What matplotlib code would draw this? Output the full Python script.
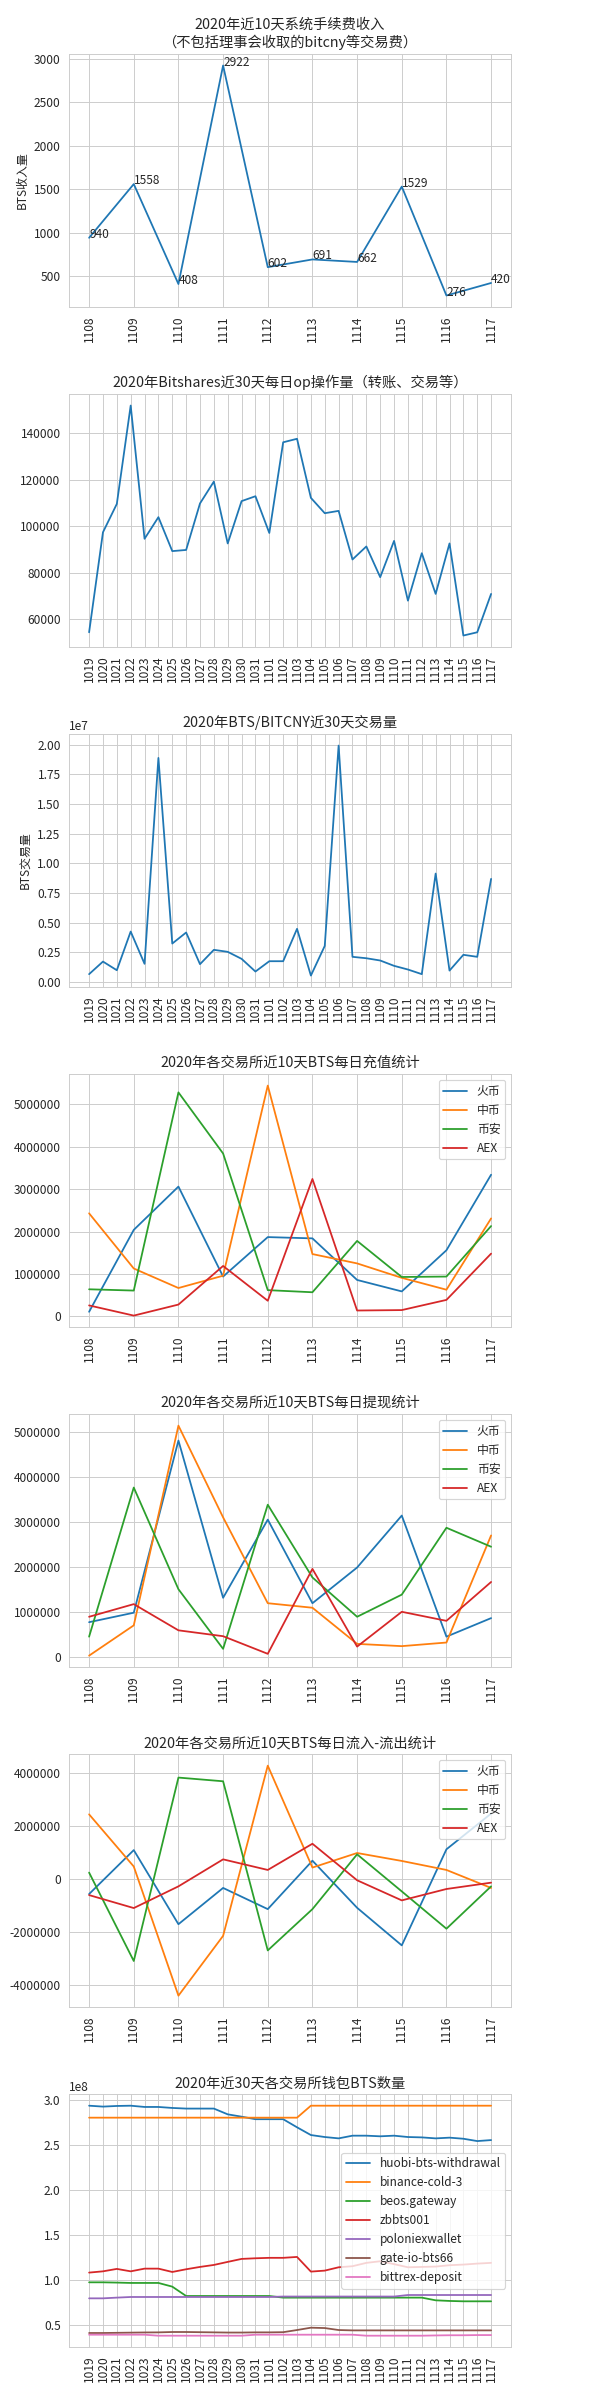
import matplotlib
matplotlib.use('Agg')
import matplotlib.pyplot as plt
import seaborn as sns

sns.set_style('whitegrid')
plt.rcParams['font.family'] = ['Noto Sans CJK SC', 'DejaVu Sans']
plt.rcParams['axes.unicode_minus'] = False

# ---- data ----
days10 = ['1108', '1109', '1110', '1111', '1112', '1113', '1114', '1115', '1116', '1117']
days30 = ['1019', '1020', '1021', '1022', '1023', '1024', '1025', '1026', '1027', '1028',
          '1029', '1030', '1031', '1101', '1102', '1103', '1104', '1105', '1106', '1107',
          '1108', '1109', '1110', '1111', '1112', '1113', '1114', '1115', '1116', '1117']

fee_income = [940, 1558, 408, 2922, 602, 691, 662, 1529, 276, 420]

op_count = [54400, 97400, 109600, 151900, 94600, 103900, 89300, 89800, 109800, 119200,
            92600, 110800, 112900, 97100, 136100, 137600, 112200, 105600, 106600, 85700,
            91300, 78100, 93700, 68000, 88400, 70900, 92600, 53000, 54400, 70900]

bitcny_volume = [0.65e6, 1.71e6, 0.98e6, 4.24e6, 1.52e6, 18.88e6, 3.23e6, 4.16e6, 1.49e6, 2.70e6,
                 2.53e6, 1.94e6, 0.87e6, 1.74e6, 1.74e6, 4.47e6, 0.53e6, 3.03e6, 19.92e6, 2.11e6,
                 1.99e6, 1.80e6, 1.35e6, 1.04e6, 0.65e6, 9.13e6, 0.95e6, 2.28e6, 2.11e6, 8.68e6]

exchanges = ['火币', '中币', '币安', 'AEX']

deposit_huobi = [0.11e6, 2.04e6, 3.06e6, 0.94e6, 1.87e6, 1.84e6, 0.86e6, 0.59e6, 1.56e6, 3.34e6]
deposit_zb = [2.43e6, 1.13e6, 0.67e6, 0.96e6, 5.44e6, 1.47e6, 1.25e6, 0.91e6, 0.63e6, 2.31e6]
deposit_binance = [0.64e6, 0.61e6, 5.28e6, 3.84e6, 0.62e6, 0.57e6, 1.78e6, 0.93e6, 0.94e6, 2.13e6]
deposit_aex = [0.26e6, 0.02e6, 0.28e6, 1.19e6, 0.37e6, 3.24e6, 0.14e6, 0.15e6, 0.39e6, 1.48e6]

withdraw_huobi = [0.78e6, 0.99e6, 4.80e6, 1.32e6, 3.05e6, 1.20e6, 1.99e6, 3.14e6, 0.46e6, 0.87e6]
withdraw_zb = [0.04e6, 0.71e6, 5.13e6, 3.10e6, 1.20e6, 1.10e6, 0.30e6, 0.25e6, 0.33e6, 2.70e6]
withdraw_binance = [0.46e6, 3.76e6, 1.51e6, 0.19e6, 3.38e6, 1.77e6, 0.90e6, 1.39e6, 2.87e6, 2.45e6]
withdraw_aex = [0.90e6, 1.18e6, 0.60e6, 0.47e6, 0.08e6, 1.96e6, 0.24e6, 1.01e6, 0.81e6, 1.67e6]

net_huobi = [-0.58e6, 1.08e6, -1.72e6, -0.35e6, -1.15e6, 0.68e6, -1.10e6, -2.52e6, 1.11e6, 2.46e6]
net_zb = [2.43e6, 0.46e6, -4.42e6, -2.16e6, 4.27e6, 0.42e6, 0.97e6, 0.67e6, 0.33e6, -0.35e6]
net_binance = [0.23e6, -3.11e6, 3.82e6, 3.68e6, -2.71e6, -1.15e6, 0.92e6, -0.48e6, -1.89e6, -0.29e6]
net_aex = [-0.62e6, -1.11e6, -0.29e6, 0.73e6, 0.33e6, 1.32e6, -0.06e6, -0.82e6, -0.39e6, -0.15e6]

wallet_names = ['huobi-bts-withdrawal', 'binance-cold-3', 'beos.gateway', 'zbbts001',
                'poloniexwallet', 'gate-io-bts66', 'bittrex-deposit']
wallet_huobi = [2.940, 2.930, 2.937, 2.940, 2.926, 2.926, 2.915, 2.908, 2.908, 2.908,
                2.844, 2.818, 2.790, 2.790, 2.790, 2.700, 2.614, 2.592, 2.577, 2.607,
                2.607, 2.600, 2.607, 2.592, 2.588, 2.577, 2.585, 2.573, 2.547, 2.558]
wallet_binance = [2.807] * 16 + [2.940] * 14
wallet_beos = [0.978, 0.978, 0.975, 0.971, 0.971, 0.971, 0.930, 0.826, 0.826, 0.826,
               0.826, 0.826, 0.826, 0.826, 0.808, 0.808, 0.808, 0.808, 0.808, 0.808,
               0.808, 0.808, 0.808, 0.808, 0.808, 0.778, 0.771, 0.767, 0.767, 0.767]
wallet_zb = [1.086, 1.100, 1.127, 1.100, 1.130, 1.130, 1.093, 1.123, 1.149, 1.171,
             1.205, 1.238, 1.245, 1.250, 1.250, 1.260, 1.097, 1.108, 1.145, 1.157,
             1.194, 1.212, 1.180, 1.145, 1.149, 1.153, 1.168, 1.175, 1.186, 1.194]
wallet_polo = [0.800, 0.800, 0.808, 0.815, 0.815, 0.815, 0.815, 0.815, 0.815, 0.815,
               0.815, 0.815, 0.815, 0.815, 0.820, 0.820, 0.820, 0.820, 0.820, 0.820,
               0.820, 0.820, 0.820, 0.837, 0.837, 0.837, 0.837, 0.837, 0.837, 0.837]
wallet_gate = [0.415, 0.415, 0.417, 0.419, 0.421, 0.422, 0.426, 0.426, 0.424, 0.422,
               0.420, 0.420, 0.422, 0.422, 0.424, 0.448, 0.474, 0.470, 0.448, 0.444,
               0.444, 0.444, 0.444, 0.444, 0.444, 0.444, 0.444, 0.444, 0.444, 0.444]
wallet_bittrex = [0.396, 0.396, 0.396, 0.396, 0.396, 0.385, 0.385, 0.385, 0.385, 0.385,
                  0.385, 0.385, 0.396, 0.396, 0.396, 0.396, 0.396, 0.396, 0.396, 0.396,
                  0.385, 0.385, 0.385, 0.385, 0.385, 0.388, 0.390, 0.390, 0.392, 0.392]

# ---- plot ----
fig, axes = plt.subplots(7, 1, figsize=(7, 28))
fig.subplots_adjust(left=0.115, right=0.852, top=0.9775, bottom=0.022, hspace=0.344)

ax = axes[0]
ax.plot(days10, fee_income)
for i, v in enumerate(fee_income):
    ax.text(i, v, str(v))
ax.set_title('2020年近10天系统手续费收入\n（不包括理事会收取的bitcny等交易费）')
ax.set_ylabel('BTS收入量')

ax = axes[1]
ax.plot(days30, op_count)
ax.set_title('2020年Bitshares近30天每日op操作量（转账、交易等）')

ax = axes[2]
ax.plot(days30, bitcny_volume)
ax.set_title('2020年BTS/BITCNY近30天交易量')
ax.set_ylabel('BTS交易量')

groups = [
    ('2020年各交易所近10天BTS每日充值统计', [deposit_huobi, deposit_zb, deposit_binance, deposit_aex]),
    ('2020年各交易所近10天BTS每日提现统计', [withdraw_huobi, withdraw_zb, withdraw_binance, withdraw_aex]),
    ('2020年各交易所近10天BTS每日流入-流出统计', [net_huobi, net_zb, net_binance, net_aex]),
]
for ax, (title, series) in zip(axes[3:6], groups):
    for name, s in zip(exchanges, series):
        ax.plot(days10, s, label=name)
    ax.set_title(title)
    ax.ticklabel_format(style='plain', axis='y')
    ax.legend(loc='upper right')

ax = axes[6]
wallets = [wallet_huobi, wallet_binance, wallet_beos, wallet_zb, wallet_polo, wallet_gate, wallet_bittrex]
for name, s in zip(wallet_names, wallets):
    ax.plot(days30, [v * 1e8 for v in s], label=name)
ax.set_title('2020年近30天各交易所钱包BTS数量')
ax.legend(loc='center right')

for ax in axes:
    ax.tick_params(axis='x', rotation=90)

fig.savefig('out.png', dpi=600 / 7)
